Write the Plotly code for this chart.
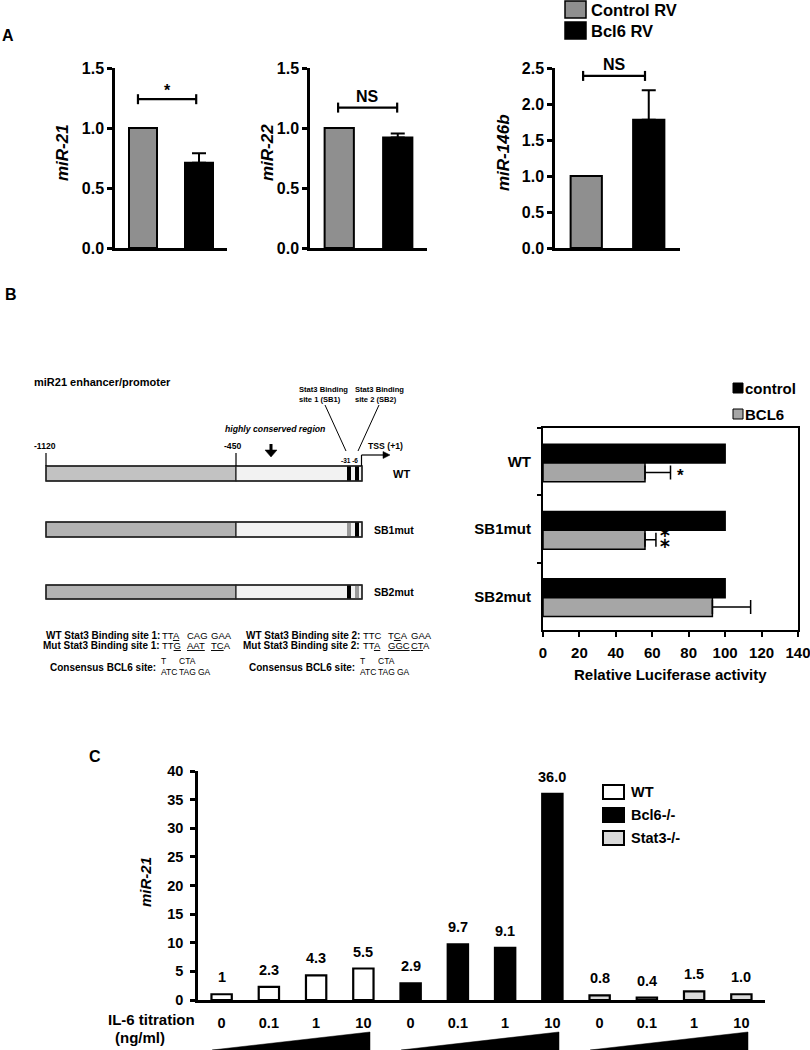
import plotly.graph_objects as go

W, H = 810, 1050
FONT = "Arial, 'Liberation Sans', sans-serif"

# ---------------- data ----------------
# Panel A
a_groups = ["Control RV", "Bcl6 RV"]
a_colors = ["#8f8f8f", "#000000"]
a_titles = ["miR-21", "miR-22", "miR-146b"]
a_control = [1.0, 1.0, 1.0]
a_bcl6 = [0.71, 0.92, 1.78]
a_bcl6_err = [0.08, 0.035, 0.41]
a_ymax = [1.5, 1.5, 2.5]
a_sig = ["*", "NS", "NS"]
a_bracket_y = [1.24, 1.17, 2.39]

# Panel B
b_constructs = ["WT", "SB1mut", "SB2mut"]
b_control = [100, 100, 100]
b_bcl6 = [56, 56, 93]
b_bcl6_err = [14, 6, 21]
b_xticks = [0, 20, 40, 60, 80, 100, 120, 140]

# Panel C
c_genotype = ["WT"] * 4 + ["Bcl6-/-"] * 4 + ["Stat3-/-"] * 4
c_il6 = ["0", "0.1", "1", "10"] * 3
c_mir21 = [1.0, 2.3, 4.3, 5.5, 2.9, 9.7, 9.1, 36.0, 0.8, 0.4, 1.5, 1.0]
c_labels = ["1", "2.3", "4.3", "5.5", "2.9", "9.7", "9.1", "36.0", "0.8", "0.4", "1.5", "1.0"]
c_colors = {"WT": "#ffffff", "Bcl6-/-": "#000000", "Stat3-/-": "#d9d9d9"}

# Sequences (panel B)
seq1_wt = ["TT<u>A</u>", "CAG", "GAA"]
seq1_mut = ["TT<u>G</u>", "<u>AAT</u>", "<u>TC</u>A"]
seq2_wt = ["TTC", "T<u>C</u>A", "GAA"]
seq2_mut = ["TT<u>A</u>", "<u>GGC</u>", "<u>CT</u>A"]
consensus_top = ["T", "CTA", ""]
consensus_bottom = ["ATC", "TAG", "GA"]


# ---------------- helpers ----------------
def px(x):
    return x / W


def py(y):
    return 1 - y / H


def fnt(size, bold=True, family=FONT):
    return dict(family=family, size=size, color="black", weight="bold" if bold else "normal")


shapes = []
annotations = []


def txt(x, y, s, size, bold=True, xanchor="left", angle=0, align="left"):
    annotations.append(dict(xref="paper", yref="paper", x=px(x), y=py(y), text=s, showarrow=False,
                            xanchor=xanchor, yanchor="middle", font=fnt(size, bold),
                            textangle=angle, align=align, borderpad=0))


def rect(x0, y0, x1, y1, fill, lw=1.0, lc="black"):
    shapes.append(dict(type="rect", xref="paper", yref="paper", x0=px(x0), x1=px(x1),
                       y0=py(y1), y1=py(y0), fillcolor=fill,
                       line=dict(color=lc, width=lw), layer="above"))


def seg(x0, y0, x1, y1, w=1.0, c="black", xref="paper", yref="paper", conv=True):
    if conv:
        x0, x1, y0, y1 = px(x0), px(x1), py(y0), py(y1)
    shapes.append(dict(type="line", xref=xref, yref=yref, x0=x0, x1=x1, y0=y0, y1=y1,
                       line=dict(color=c, width=w), layer="above"))


def poly(pts, fill="black"):
    d = "M " + " L ".join(f"{px(x):.5f},{py(y):.5f}" for x, y in pts) + " Z"
    shapes.append(dict(type="path", xref="paper", yref="paper", path=d, fillcolor=fill,
                       line=dict(color=fill, width=0.5), layer="above"))


fig = go.Figure()
layout_axes = {}

# ---------------- Panel A ----------------
a_dom = [(115, 227), (310, 427), (555, 680)]
a_title_x = [63, 268, 504]
a_bracket_x = [(-0.09, 0.95), (-0.02, 0.99), (-0.05, 0.94)]
for i in range(3):
    n = i + 1
    xk, yk = ("xaxis", "yaxis") if n == 1 else (f"xaxis{n}", f"yaxis{n}")
    xr, yr = ("x", "y") if n == 1 else (f"x{n}", f"y{n}")
    fig.add_trace(go.Bar(x=[a_groups[0]], y=[a_control[i]], xaxis=xr, yaxis=yr, width=0.5,
                         marker=dict(color=a_colors[0], line=dict(color="black", width=2)),
                         name=a_groups[0], showlegend=False))
    fig.add_trace(go.Bar(x=[a_groups[1]], y=[a_bcl6[i]], xaxis=xr, yaxis=yr, width=0.5,
                         marker=dict(color=a_colors[1], line=dict(color="black", width=2)),
                         error_y=dict(type="data", array=[a_bcl6_err[i]], arrayminus=[0],
                                      symmetric=False, color="black", thickness=2, width=7),
                         name=a_groups[1], showlegend=False))
    layout_axes[xk] = dict(domain=[px(a_dom[i][0]), px(a_dom[i][1])], anchor=yr, type="category",
                           categoryarray=a_groups, range=[-0.5, 1.5], showline=True,
                           linecolor="black", linewidth=2.5, showticklabels=False, ticks="",
                           showgrid=False, zeroline=False, fixedrange=True, automargin=False)
    layout_axes[yk] = dict(domain=[py(248), py(68)], anchor=xr, range=[0, a_ymax[i]], dtick=0.5,
                           tickformat=".1f", showline=True, linecolor="black", linewidth=2.5,
                           ticks="outside", ticklen=5, tickwidth=2.5, tickcolor="black",
                           tickfont=fnt(16), showgrid=False, zeroline=False, fixedrange=True,
                           ticklabeloverflow="allow", automargin=False)
    by = a_bracket_y[i]
    hh = 5 * a_ymax[i] / 180
    bx0, bx1 = a_bracket_x[i]
    seg(bx0, by, bx1, by, 2.2, xref=xr, yref=yr, conv=False)
    seg(bx0, by - hh, bx0, by + hh, 2.2, xref=xr, yref=yr, conv=False)
    seg(bx1, by - hh, bx1, by + hh, 2.2, xref=xr, yref=yr, conv=False)
    annotations.append(dict(xref=xr, yref=yr, x=(bx0 + bx1) / 2, y=by, text=a_sig[i],
                            showarrow=False, yanchor="bottom",
                            yshift=(-2 if a_sig[i] == "*" else 1), font=fnt(16)))
    txt(a_title_x[i], 153, f"<i>{a_titles[i]}</i>", 17, angle=-90, xanchor="center")

txt(1, 36, "A", 16)
# legend A
rect(565, 1, 586, 18, a_colors[0], 1.5)
txt(590, 10, a_groups[0], 16.5)
rect(565, 22, 586, 39, a_colors[1], 1.5)
txt(590, 31, a_groups[1], 16.5)

# ---------------- Panel B: diagram ----------------
txt(4, 294, "B", 16)
txt(33, 382, "miR21 enhancer/promoter", 11)
txt(33, 446, "-1120", 8.6)
txt(223, 446, "-450", 8.6)
txt(224, 429, "<i>highly conserved region</i>", 8.7)
txt(298, 394, "Stat3 Binding<br>site 1 (SB1)", 7.6)
txt(354, 394, "Stat3 Binding<br>site 2 (SB2)", 7.6)
txt(340, 460, "-31 -6", 6.5)
txt(367, 446, "TSS (+1)", 8.7)

construct_y = {"WT": (466, 481), "SB1mut": (522, 537), "SB2mut": (585, 599)}
site_cols = {"WT": ("#000000", "#000000"), "SB1mut": ("#9a9a9a", "#000000"),
             "SB2mut": ("#000000", "#9a9a9a")}
left_cols = {"WT": "#c2c2c2", "SB1mut": "#b3b3b3", "SB2mut": "#b3b3b3"}
for name in b_constructs:
    y0, y1 = construct_y[name]
    rect(46, y0, 236, y1, left_cols[name], 1.2, "#222")
    rect(236, y0, 362, y1, "#f2f2f2", 1.2, "#222")
    rect(347, y0, 351, y1, site_cols[name][0], 0)
    rect(355, y0, 359, y1, site_cols[name][1], 0)
    rect(46, y0, 362, y1, "rgba(0,0,0,0)", 1.3, "#222")
    txt(373 if name != "WT" else 392, (y0 + y1) / 2, name, 11 if name == "WT" else 10.5)

seg(46, 453, 46, 466, 1.2)
seg(236, 453, 236, 466, 1.2)
# conserved-region arrow
rect(269.5, 444, 272.5, 451, "black", 0)
poly([(265, 450), (277, 450), (271, 457)])
# binding-site leader lines
seg(325, 405, 346, 451, 1.0)
seg(379, 405, 358, 451, 1.0)
# TSS arrow
seg(361.5, 466, 361.5, 455, 1.2)
seg(361.5, 455, 384, 455, 1.2)
poly([(383, 451.5), (390, 455), (383, 458.5)])


# sequences
def seq_row(label_right, y, label, triplets, xs):
    txt(label_right, y, label, 10, xanchor="right")
    for t, x in zip(triplets, xs):
        txt(x, y, t, 9.5, bold=False)


xs1 = [161, 186, 210]
xs2 = [362, 387, 410]
seq_row(161, 635, "WT Stat3 Binding site 1:", seq1_wt, xs1)
seq_row(161, 645, "Mut Stat3 Binding site 1:", seq1_mut, xs1)
seq_row(361, 635, "WT Stat3 Binding site 2:", seq2_wt, xs2)
seq_row(361, 645, "Mut Stat3 Binding site 2:", seq2_mut, xs2)
for xr_, xt in ((157, 160), (356, 359)):
    txt(xr_, 667, "Consensus BCL6 site:", 10, xanchor="right")
    for top, bot, dx in zip(consensus_top, consensus_bottom, (0, 18, 37)):
        if top:
            txt(xt + dx, 661, top, 8.5, bold=False)
        txt(xt + dx, 672, bot, 8.5, bold=False)

# ---------------- Panel B: luciferase chart ----------------
fig.add_trace(go.Bar(y=b_constructs, x=b_control, orientation="h", xaxis="x4", yaxis="y4",
                     offset=-0.26, width=0.28, name="control", showlegend=False,
                     marker=dict(color="black", line=dict(color="black", width=1.5))))
fig.add_trace(go.Bar(y=b_constructs, x=b_bcl6, orientation="h", xaxis="x4", yaxis="y4",
                     offset=0.02, width=0.28, name="BCL6", showlegend=False,
                     marker=dict(color="#a6a6a6", line=dict(color="black", width=1.5)),
                     error_x=dict(type="data", array=b_bcl6_err, arrayminus=[0, 0, 0],
                                  symmetric=False, color="black", thickness=1.5, width=7)))
layout_axes["xaxis4"] = dict(domain=[px(543), px(798)], anchor="y4", range=[0, 140],
                             tickvals=b_xticks, showline=True, mirror=True, linecolor="black",
                             linewidth=2, ticks="outside", ticklen=5, tickwidth=1.5,
                             tickcolor="black", tickfont=fnt(15), ticklabelstandoff=3,
                             ticklabeloverflow="allow", automargin=False,
                             showgrid=False, zeroline=False, fixedrange=True)
layout_axes["yaxis4"] = dict(domain=[py(630), py(428)], anchor="x4", type="category",
                             categoryarray=b_constructs, autorange="reversed", showline=True,
                             mirror=True, linecolor="black", linewidth=2, ticks="outside",
                             tickson="boundaries", ticklen=4, tickwidth=1.5, tickcolor="black",
                             tickfont=fnt(15), ticklabelstandoff=7, automargin=False,
                             showgrid=False, zeroline=False, fixedrange=True)
txt(670, 674, "Relative Luciferase activity", 15, xanchor="center")
# significance marks
annotations.append(dict(xref="x4", yref="y4", x=b_bcl6[0] + b_bcl6_err[0] + 5.5, y=b_constructs[0],
                        text="*", showarrow=False, yshift=-14, font=fnt(17)))
annotations.append(dict(xref="x4", yref="y4", x=b_bcl6[1] + b_bcl6_err[1] + 5, y=b_constructs[1],
                        text="\u2051", showarrow=False, yshift=-11,
                        font=fnt(24, True, "'DejaVu Sans', Arial, sans-serif")))
# legend B
rect(733, 383, 743, 393, "black", 1)
txt(744, 389, "control", 15)
rect(733, 409, 743, 419, "#a6a6a6", 1)
txt(744, 415, "BCL6", 15)

# ---------------- Panel C ----------------
idx = list(range(len(c_mir21)))
fig.add_trace(go.Bar(x=idx, y=c_mir21, xaxis="x5", yaxis="y5", width=0.43, showlegend=False,
                     marker=dict(color=[c_colors[g] for g in c_genotype],
                                 line=dict(color="black", width=2.2)),
                     customdata=c_genotype, name="miR-21"))
layout_axes["xaxis5"] = dict(domain=[px(198), px(765)], anchor="y5", range=[-0.5, 11.5],
                             tickvals=idx, ticktext=c_il6, showline=True, linecolor="black",
                             linewidth=2.5, ticks="", tickfont=fnt(14.5), ticklabelstandoff=8,
                             ticklabeloverflow="allow", automargin=False,
                             showgrid=False, zeroline=False, fixedrange=True)
layout_axes["yaxis5"] = dict(domain=[py(1000), py(771)], anchor="x5", range=[0, 40], dtick=5,
                             showline=True, linecolor="black", linewidth=2.5, ticks="outside",
                             ticklen=5, tickwidth=2.5, tickcolor="black", tickfont=fnt(14.5),
                             ticklabelstandoff=4, ticklabeloverflow="allow", automargin=False,
                             showgrid=False, zeroline=False, fixedrange=True)
for i, (v, lab) in enumerate(zip(c_mir21, c_labels)):
    annotations.append(dict(xref="x5", yref="y5", x=i, y=v, text=lab, showarrow=False,
                            yanchor="middle", yshift=17, font=fnt(14.5)))
txt(88, 756, "C", 16)
txt(145, 882, "<i>miR-21</i>", 15, angle=-90, xanchor="center")
txt(151, 1019, "IL-6 titration", 15, xanchor="center")
txt(140, 1037, "(ng/ml)", 15, xanchor="center")
# titration wedges (per genotype group)
for g0 in (0, 4, 8):
    xl, xr_ = g0 - 0.2, g0 + 3 + 0.14
    d = f"M {xl},{py(1050)} L {xr_},{py(1032)} L {xr_},{py(1050)} Z"
    shapes.append(dict(type="path", xref="x5", yref="paper", path=d, fillcolor="black",
                       line=dict(color="black", width=0.5), layer="above"))
# legend C
for g, yy in zip(["WT", "Bcl6-/-", "Stat3-/-"], [792, 815, 838]):
    rect(603, yy - 7, 624, yy + 7, c_colors[g], 2)
    txt(630, yy, g, 14.5)

fig.update_layout(template="none", width=W, height=H, autosize=False,
                  margin=dict(l=0, r=0, t=0, b=0, pad=0, autoexpand=False),
                  paper_bgcolor="white", plot_bgcolor="white", barmode="overlay",
                  showlegend=False, font=dict(family=FONT, color="black"),
                  shapes=shapes, annotations=annotations, **layout_axes)

fig.write_html("out.html", config={"displayModeBar": False, "responsive": False},
               post_script="document.body.style.margin='0';document.body.style.overflow='hidden';")
